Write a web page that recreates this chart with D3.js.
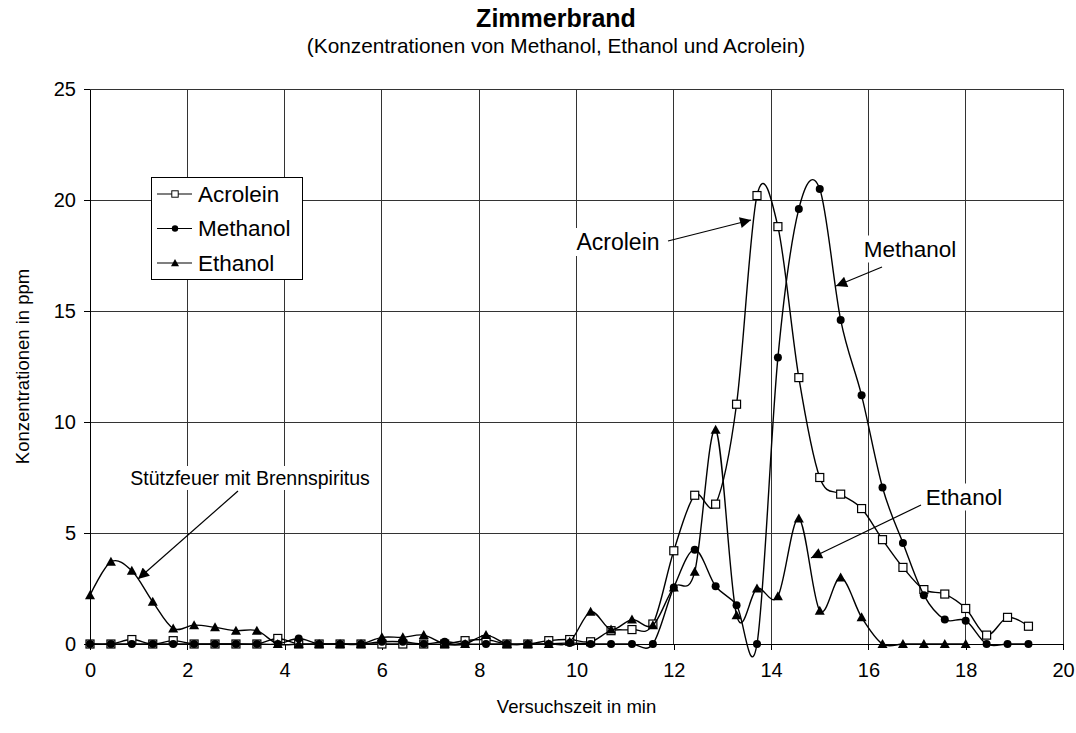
<!DOCTYPE html>
<html>
<head>
<meta charset="utf-8">
<script src="https://cdn.jsdelivr.net/npm/d3@7"></script>
<style>
  body { margin: 0; background: #fff; }
  svg text { font-family: "Liberation Sans", Arial, sans-serif; fill: #000; }
</style>
</head>
<body>
<div id="chart"></div>
<script>
// measurement times in min (one sample every ~0.43 min)
const times = [0, 0.43, 0.86, 1.29, 1.71, 2.14, 2.57, 3.0, 3.43, 3.86, 4.29, 4.71, 5.14, 5.57,
  6.0, 6.43, 6.86, 7.29, 7.71, 8.14, 8.57, 9.0, 9.43, 9.86, 10.29, 10.71, 11.14, 11.57,
  12.0, 12.43, 12.86, 13.29, 13.71, 14.14, 14.57, 15.0, 15.43, 15.86, 16.29, 16.71,
  17.14, 17.57, 18.0, 18.43, 18.86, 19.29];

const acrolein = [0, 0, 0.2, 0, 0.15, 0, 0, 0, 0, 0.25, 0, 0, 0, 0,
  0, 0, 0, 0, 0.15, 0.2, 0, 0, 0.15, 0.2, 0.1, 0.6, 0.65, 0.9,
  4.2, 6.7, 6.3, 10.8, 20.2, 18.8, 12.0, 7.5, 6.75, 6.1, 4.7, 3.45,
  2.45, 2.25, 1.6, 0.4, 1.2, 0.8];

const methanol = [0, 0, 0, 0, 0, 0, 0, 0, 0, 0, 0.25, 0, 0, 0,
  0.1, 0.1, 0, 0.1, 0, 0, 0, 0, 0, 0.05, 0, 0, 0, 0,
  2.55, 4.25, 2.6, 1.75, 0, 12.9, 19.6, 20.5, 14.6, 11.2, 7.05, 4.55,
  2.2, 1.1, 1.05, 0, 0, 0];

const ethanol = [2.2, 3.7, 3.3, 1.9, 0.7, 0.85, 0.75, 0.6, 0.6, 0, 0, 0, 0, 0,
  0.3, 0.3, 0.4, 0, 0, 0.4, 0, 0, 0, 0.1, 1.45, 0.65, 1.1, 0.85,
  2.55, 3.25, 9.65, 1.3, 2.5, 2.15, 5.65, 1.5, 3.0, 1.2, 0, 0,
  0, 0, 0, null, null, null];

const seriesNames = ["Acrolein", "Methanol", "Ethanol"];
const seriesValues = [acrolein, methanol, ethanol];
const seriesMarkers = ["square", "circle", "triangle"];

const xTicks = [0, 2, 4, 6, 8, 10, 12, 14, 16, 18, 20];
const yTicks = [0, 5, 10, 15, 20, 25];

const title = "Zimmerbrand";
const subtitle = "(Konzentrationen von Methanol, Ethanol und Acrolein)";
const xTitle = "Versuchszeit in min";
const yTitle = "Konzentrationen in ppm";

// text labels with arrows
const notes = [
  { text: "Acrolein", size: 23, tx: 618, ty: 242, from: [668, 241], to: [751, 220] },
  { text: "Methanol", size: 22.5, tx: 910, ty: 249, from: [882, 267], to: [836, 286] },
  { text: "Ethanol", size: 22.5, tx: 964, ty: 497, from: [921, 505], to: [811, 558] },
  { text: "Stützfeuer mit Brennspiritus", size: 19.5, tx: 250, ty: 478, from: [238, 491], to: [138, 579] }
];

const width = 1076, height = 733;
const margin = { top: 89, right: 13, bottom: 89, left: 90 };

const svg = d3.select("#chart").append("svg")
  .attr("width", width)
  .attr("height", height);

const x = d3.scaleLinear().domain([0, 20]).range([margin.left, width - margin.right]);
const y = d3.scaleLinear().domain([0, 25]).range([height - margin.bottom, margin.top]);

const defs = svg.append("defs");
defs.append("marker")
  .attr("id", "arrow")
  .attr("viewBox", "0 0 10 10")
  .attr("refX", 10).attr("refY", 5)
  .attr("markerUnits", "userSpaceOnUse")
  .attr("markerWidth", 16).attr("markerHeight", 11)
  .attr("orient", "auto")
  .append("path")
  .attr("d", "M0,0 L10,5 L0,10 Z")
  .attr("fill", "#000");

// Gridlines
const grid = svg.append("g");
grid.selectAll(".vg").data(xTicks.slice(1)).join("line")
  .attr("x1", d => x(d)).attr("x2", d => x(d))
  .attr("y1", y(0)).attr("y2", y(25))
  .attr("stroke", "#333").attr("stroke-width", 1)
  .attr("shape-rendering", "crispEdges");
grid.selectAll(".hg").data(yTicks.slice(1)).join("line")
  .attr("x1", x(0)).attr("x2", x(20))
  .attr("y1", d => y(d)).attr("y2", d => y(d))
  .attr("stroke", "#333").attr("stroke-width", 1)
  .attr("shape-rendering", "crispEdges");

// Axes
const xAxis = svg.append("g")
  .attr("transform", `translate(0,${y(0)})`)
  .call(d3.axisBottom(x).tickValues(xTicks).tickSize(6).tickPadding(13).tickSizeOuter(0));
const yAxis = svg.append("g")
  .attr("transform", `translate(${x(0)},0)`)
  .call(d3.axisLeft(y).tickValues(yTicks).tickSize(6).tickPadding(8).tickSizeOuter(0));
[xAxis, yAxis].forEach(a => {
  a.selectAll("text").style("font-size", "20px").attr("fill", "#000");
  a.selectAll("line,path").attr("stroke", "#000").attr("shape-rendering", "crispEdges");
});

// Series lines and markers
const line = d3.line()
  .defined(d => d.v !== null)
  .x(d => x(d.t))
  .y(d => y(d.v))
  .curve(d3.curveCardinal.tension(0));

function drawMarker(g, type, cx, cy) {
  if (type === "square") {
    g.append("rect").attr("x", cx - 4).attr("y", cy - 4).attr("width", 8).attr("height", 8)
      .attr("fill", "#fff").attr("stroke", "#000").attr("stroke-width", 1.2);
  } else if (type === "circle") {
    g.append("circle").attr("cx", cx).attr("cy", cy).attr("r", 4).attr("fill", "#000");
  } else {
    g.append("path").attr("d", `M${cx},${cy - 5} L${cx + 5},${cy + 4} L${cx - 5},${cy + 4} Z`)
      .attr("fill", "#000");
  }
}

seriesValues.forEach((vals, i) => {
  const data = times.map((t, k) => ({ t: t, v: vals[k] }));
  svg.append("path")
    .datum(data)
    .attr("fill", "none")
    .attr("stroke", "#000")
    .attr("stroke-width", 1.4)
    .attr("d", line);
  const mg = svg.append("g");
  data.filter(d => d.v !== null).forEach(d => drawMarker(mg, seriesMarkers[i], x(d.t), y(d.v)));
});

// Annotations with arrows
notes.forEach(n => {
  const g = svg.append("g");
  const bg = g.append("rect").attr("fill", "#fff");
  const t = g.append("text")
    .attr("x", n.tx).attr("y", n.ty)
    .attr("text-anchor", "middle")
    .attr("dominant-baseline", "central")
    .style("font-size", n.size + "px")
    .text(n.text);
  const bb = t.node().getBBox();
  bg.attr("x", bb.x - 3).attr("y", bb.y - 1).attr("width", bb.width + 6).attr("height", bb.height + 2);
  svg.append("line")
    .attr("x1", n.from[0]).attr("y1", n.from[1])
    .attr("x2", n.to[0]).attr("y2", n.to[1])
    .attr("stroke", "#000").attr("stroke-width", 1.2)
    .attr("marker-end", "url(#arrow)");
});

// Legend
const legend = svg.append("g");
legend.append("rect")
  .attr("x", 151).attr("y", 177).attr("width", 151).attr("height", 102)
  .attr("fill", "#fff").attr("stroke", "#000").attr("stroke-width", 1)
  .attr("shape-rendering", "crispEdges");
seriesNames.forEach((name, i) => {
  const ly = 194 + i * 34.5;
  legend.append("line").attr("x1", 157).attr("x2", 192).attr("y1", ly).attr("y2", ly)
    .attr("stroke", "#000").attr("stroke-width", 1.2);
  const mg = legend.append("g").attr("transform", "translate(175," + ly + ") scale(0.8) translate(-175," + (-ly) + ")");
  drawMarker(mg, seriesMarkers[i], 175, ly);
  legend.append("text").attr("x", 198).attr("y", ly)
    .attr("dominant-baseline", "central")
    .style("font-size", "22.5px")
    .text(name);
});

// Titles
svg.append("text").attr("x", 556).attr("y", 18)
  .attr("text-anchor", "middle").attr("dominant-baseline", "central")
  .style("font-size", "25px").style("font-weight", "bold")
  .text(title);
svg.append("text").attr("x", 556).attr("y", 45)
  .attr("text-anchor", "middle").attr("dominant-baseline", "central")
  .style("font-size", "20.8px")
  .text(subtitle);
svg.append("text").attr("x", x(10)).attr("y", 706)
  .attr("text-anchor", "middle").attr("dominant-baseline", "central")
  .style("font-size", "18.5px")
  .text(xTitle);
svg.append("text")
  .attr("transform", `translate(22,${(y(0) + y(25)) / 2}) rotate(-90)`)
  .attr("text-anchor", "middle").attr("dominant-baseline", "central")
  .style("font-size", "18.5px")
  .text(yTitle);
</script>
</body>
</html>
